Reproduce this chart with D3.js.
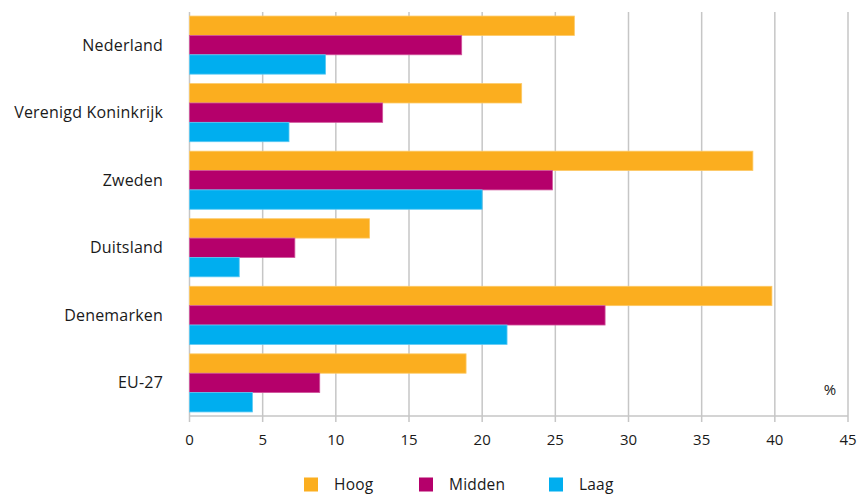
<!DOCTYPE html>
<html lang="nl">
  <head>
    <meta charset="UTF-8" />
    <title>Hoog, midden, laag</title>
    <script src="https://cdn.jsdelivr.net/npm/d3@7"></script>
    <style>
      body { margin: 0; background: #fff; }
      svg { display: block; font-family: "Open Sans", sans-serif; }
    </style>
  </head>
  <body>
    <div id="chart"></div>
    <script>
      // data
      const countries = ["Nederland", "Verenigd Koninkrijk", "Zweden", "Duitsland", "Denemarken", "EU-27"];
      const series = ["Hoog", "Midden", "Laag"];
      const hoog = [26.3, 22.7, 38.5, 12.3, 39.8, 18.9];
      const midden = [18.6, 13.2, 24.8, 7.2, 28.4, 8.9];
      const laag = [9.3, 6.8, 20.0, 3.4, 21.7, 4.3];
      const xTicks = [0, 5, 10, 15, 20, 25, 30, 35, 40, 45];

      const colors = { Hoog: "#fbae1f", Midden: "#b5006b", Laag: "#00aeef" };
      const strokes = { Hoog: "#fdc965", Midden: "#d0559c", Laag: "#5cc9f3" };

      const width = 858;
      const height = 495;
      const margin = { left: 189.5, right: 10, top: 12, bottom: 79 };

      const rows = countries.map((c, i) => ({
        country: c,
        values: [
          { key: "Hoog", value: hoog[i] },
          { key: "Midden", value: midden[i] },
          { key: "Laag", value: laag[i] },
        ],
      }));

      const svg = d3.select("#chart").append("svg")
        .attr("width", width)
        .attr("height", height);

      const x = d3.scaleLinear().domain([0, 45]).range([margin.left, 848]);
      const y = d3.scaleBand().domain(countries)
        .range([margin.top, height - margin.bottom])
        .paddingInner(0.14)
        .paddingOuter(0.06);
      const ySub = d3.scaleBand().domain(series).range([0, y.bandwidth()]);

      // gridlines
      svg.append("g")
        .selectAll("line")
        .data(xTicks)
        .join("line")
        .attr("x1", d => x(d))
        .attr("x2", d => x(d))
        .attr("y1", margin.top)
        .attr("y2", height - margin.bottom + 6)
        .attr("stroke", "#c6c6c6")
        .attr("stroke-width", 1.5);

      // axis line
      svg.append("line")
        .attr("x1", x(0))
        .attr("x2", x(45))
        .attr("y1", height - margin.bottom)
        .attr("y2", height - margin.bottom)
        .attr("stroke", "#c6c6c6")
        .attr("stroke-width", 1.5);

      // bars
      const groups = svg.append("g")
        .selectAll("g")
        .data(rows)
        .join("g")
        .attr("transform", d => `translate(0,${y(d.country)})`);

      groups.selectAll("rect")
        .data(d => d.values)
        .join("rect")
        .attr("x", x(0))
        .attr("y", d => ySub(d.key))
        .attr("width", d => x(d.value) - x(0))
        .attr("height", ySub.bandwidth())
        .attr("fill", d => colors[d.key])
        .attr("stroke", d => strokes[d.key])
        .attr("stroke-width", 0.8);

      // category labels
      svg.append("g")
        .selectAll("text")
        .data(countries)
        .join("text")
        .attr("x", 163)
        .attr("y", d => y(d) + y.bandwidth() / 2)
        .attr("dy", "0.35em")
        .attr("text-anchor", "end")
        .attr("font-size", 16)
        .attr("letter-spacing", 0.2)
        .attr("fill", "#1a1a1a")
        .text(d => d);

      // x tick labels
      svg.append("g")
        .selectAll("text")
        .data(xTicks)
        .join("text")
        .attr("x", d => x(d))
        .attr("y", 445)
        .attr("text-anchor", "middle")
        .attr("font-size", 15)
        .attr("fill", "#1a1a1a")
        .text(d => d);

      // unit
      svg.append("text")
        .attr("x", 830)
        .attr("y", 395)
        .attr("text-anchor", "middle")
        .attr("font-size", 15)
        .attr("fill", "#1a1a1a")
        .text("%");

      // legend
      const legendX = [304, 419, 549];
      const legend = svg.append("g")
        .selectAll("g")
        .data(series)
        .join("g")
        .attr("transform", (d, i) => `translate(${legendX[i]},477.5)`);

      legend.append("rect")
        .attr("width", 14)
        .attr("height", 14)
        .attr("fill", d => colors[d]);

      legend.append("text")
        .attr("x", 30)
        .attr("y", 12)
        .attr("font-size", 15.5)
        .attr("letter-spacing", 0.2)
        .attr("fill", "#1a1a1a")
        .text(d => d);
    </script>
  </body>
</html>
